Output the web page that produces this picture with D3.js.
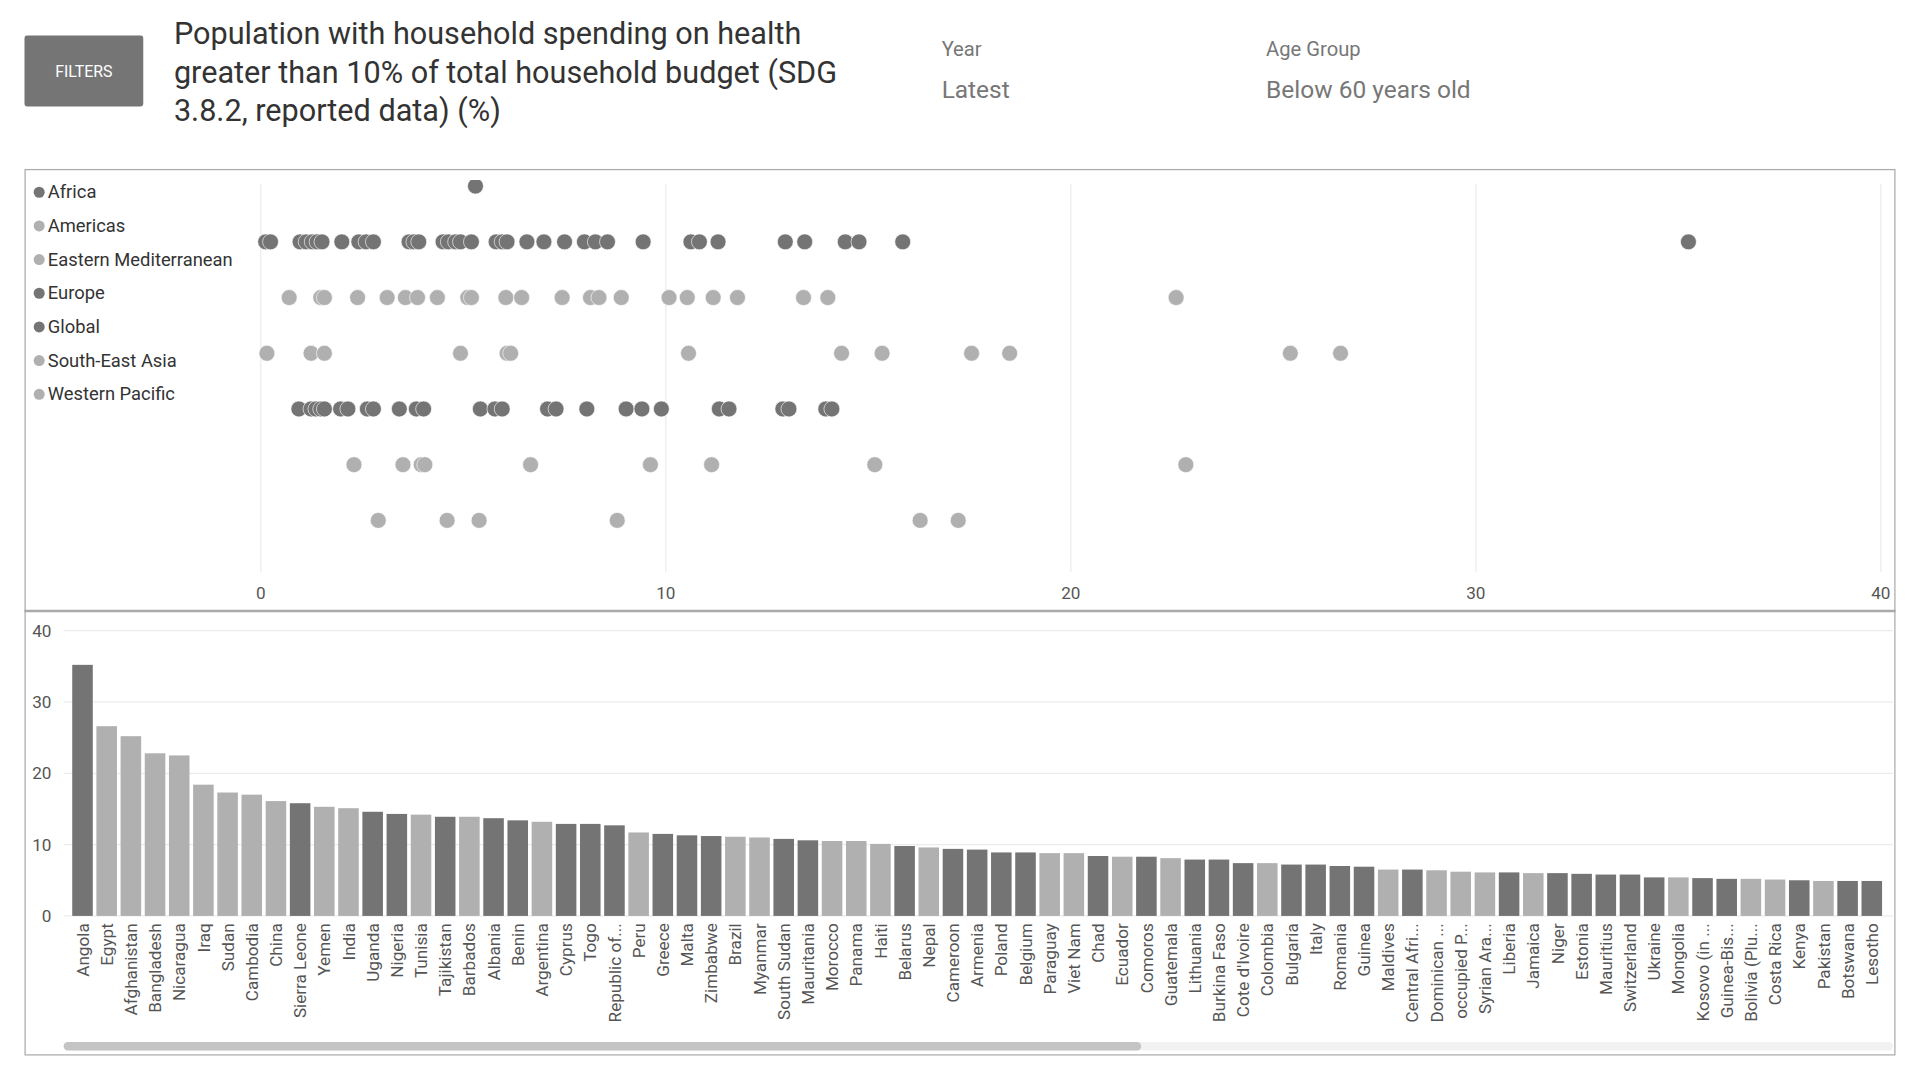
<!DOCTYPE html>
<html><head><meta charset="utf-8">
<script src="https://cdn.jsdelivr.net/npm/d3@7"></script>
<style>body{margin:0;background:#fff;font-family:Roboto,"Liberation Sans",sans-serif}</style>
</head><body>
<svg id="chart" width="1920" height="1080" viewBox="0 0 1568 882"></svg>
<script>
const regions = ['Africa', 'Americas', 'Eastern Mediterranean', 'Europe', 'Global', 'South-East Asia', 'Western Pacific']
const regionShade = ['dark', 'light', 'light', 'dark', 'dark', 'light', 'light']
const stripShade = ['dark', 'dark', 'light', 'light', 'dark', 'light', 'light']
const stripRows = [
  [5.3],
  [0.12, 0.24, 0.97, 1.12, 1.27, 1.39, 1.51, 2.0, 2.42, 2.6, 2.78, 3.66, 3.78, 3.9, 4.5, 4.63, 4.81, 4.93, 5.2, 5.81, 5.96, 6.08, 6.57, 6.99, 7.5, 7.99, 8.26, 8.56, 9.44, 10.62, 10.83, 11.29, 12.95, 13.43, 14.43, 14.77, 15.85, 35.25],
  [0.7, 1.48, 1.57, 2.39, 3.12, 3.57, 3.87, 4.36, 5.11, 5.2, 6.05, 6.44, 7.44, 8.14, 8.35, 8.9, 10.08, 10.53, 11.17, 11.77, 13.4, 14.0, 22.6],
  [0.15, 1.24, 1.57, 4.93, 6.08, 6.17, 10.56, 14.34, 15.34, 17.55, 18.49, 25.42, 26.66],
  [0.94, 1.24, 1.36, 1.48, 1.57, 1.97, 2.15, 2.63, 2.78, 3.42, 3.84, 4.02, 5.42, 5.78, 5.96, 7.08, 7.29, 8.05, 9.02, 9.41, 9.89, 11.32, 11.56, 12.89, 13.04, 13.95, 14.1],
  [2.3, 3.51, 3.96, 4.05, 6.66, 9.62, 11.13, 15.16, 22.84],
  [2.9, 4.6, 5.39, 8.8, 16.28, 17.22]
]
const countries = ['Angola', 'Egypt', 'Afghanistan', 'Bangladesh', 'Nicaragua', 'Iraq', 'Sudan', 'Cambodia', 'China', 'Sierra Leone', 'Yemen', 'India', 'Uganda', 'Nigeria', 'Tunisia', 'Tajikistan', 'Barbados', 'Albania', 'Benin', 'Argentina', 'Cyprus', 'Togo', 'Republic of...', 'Peru', 'Greece', 'Malta', 'Zimbabwe', 'Brazil', 'Myanmar', 'South Sudan', 'Mauritania', 'Morocco', 'Panama', 'Haiti', 'Belarus', 'Nepal', 'Cameroon', 'Armenia', 'Poland', 'Belgium', 'Paraguay', 'Viet Nam', 'Chad', 'Ecuador', 'Comoros', 'Guatemala', 'Lithuania', 'Burkina Faso', "Cote d'Ivoire", 'Colombia', 'Bulgaria', 'Italy', 'Romania', 'Guinea', 'Maldives', 'Central Afri...', 'Dominican ...', 'occupied P...', 'Syrian Ara...', 'Liberia', 'Jamaica', 'Niger', 'Estonia', 'Mauritius', 'Switzerland', 'Ukraine', 'Mongolia', 'Kosovo (in ...', 'Guinea-Bis...', 'Bolivia (Plu...', 'Costa Rica', 'Kenya', 'Pakistan', 'Botswana', 'Lesotho']
const values = [35.2, 26.6, 25.2, 22.8, 22.5, 18.4, 17.3, 17.0, 16.1, 15.8, 15.3, 15.1, 14.6, 14.3, 14.2, 13.9, 13.9, 13.7, 13.4, 13.2, 12.9, 12.9, 12.7, 11.7, 11.5, 11.3, 11.2, 11.1, 11.0, 10.8, 10.6, 10.5, 10.5, 10.1, 9.8, 9.6, 9.4, 9.3, 8.9, 8.9, 8.8, 8.8, 8.4, 8.3, 8.3, 8.1, 7.9, 7.9, 7.4, 7.4, 7.2, 7.2, 7.0, 6.9, 6.5, 6.5, 6.4, 6.2, 6.1, 6.1, 6.0, 6.0, 5.9, 5.8, 5.8, 5.4, 5.4, 5.3, 5.2, 5.2, 5.1, 5.0, 4.9, 4.9, 4.9]
const darkBars = ['Angola', 'Sierra Leone', 'Uganda', 'Nigeria', 'Tajikistan', 'Albania', 'Benin', 'Cyprus', 'Togo', 'Republic of...', 'Greece', 'Malta', 'Zimbabwe', 'South Sudan', 'Mauritania', 'Belarus', 'Cameroon', 'Armenia', 'Poland', 'Belgium', 'Chad', 'Comoros', 'Lithuania', 'Burkina Faso', "Cote d'Ivoire", 'Bulgaria', 'Italy', 'Romania', 'Guinea', 'Central Afri...', 'Liberia', 'Niger', 'Estonia', 'Mauritius', 'Switzerland', 'Ukraine', 'Kosovo (in ...', 'Guinea-Bis...', 'Kenya', 'Botswana', 'Lesotho']
const xTicks = [0, 10, 20, 30, 40]
const yTicks = [0, 10, 20, 30, 40]

const shade = {dark: '#747474', light: '#b0b0b0'}
const svg = d3.select('#chart')
const txt = '#555'

// header
svg.append('rect').attr('x', 20).attr('y', 29).attr('width', 97).attr('height', 58).attr('rx', 2).attr('fill', '#757575')
svg.append('text').attr('x', 68.5).attr('y', 63).attr('text-anchor', 'middle').attr('fill', '#fff').style('font-size', '13px').text('FILTERS')
const title = ['Population with household spending on health', 'greater than 10% of total household budget (SDG', '3.8.2, reported data) (%)']
svg.append('text').attr('fill', '#333').style('font-size', '25px')
  .selectAll('tspan').data(title).enter().append('tspan')
  .attr('x', 142).attr('y', (d, i) => 36 + i * 31.5).text(d => d)
svg.append('text').attr('x', 769).attr('y', 46).attr('fill', '#777').style('font-size', '16.5px').text('Year')
svg.append('text').attr('x', 769).attr('y', 80).attr('fill', '#777').style('font-size', '20px').text('Latest')
svg.append('text').attr('x', 1034).attr('y', 46).attr('fill', '#777').style('font-size', '16.5px').text('Age Group')
svg.append('text').attr('x', 1034).attr('y', 80).attr('fill', '#777').style('font-size', '20px').text('Below 60 years old')

// panel frames
svg.append('rect').attr('x', 20.5).attr('y', 138.5).attr('width', 1527).attr('height', 723).attr('fill', 'none').attr('stroke', '#aaa')
svg.append('line').attr('x1', 20).attr('x2', 1548).attr('y1', 499).attr('y2', 499).attr('stroke', '#aaa').attr('stroke-width', 2)

// strip plot
const x = d3.scaleLinear().domain([0, 40]).range([213, 1536])
const rowY = d3.scalePoint().domain(d3.range(stripRows.length)).range([152, 425])
svg.append('defs').append('clipPath').attr('id', 'clipTop')
  .append('rect').attr('x', 21).attr('y', 147).attr('width', 1526).attr('height', 350)
const strip = svg.append('g')
strip.append('g').selectAll('line').data(xTicks).enter().append('line')
  .attr('x1', d => x(d)).attr('x2', d => x(d)).attr('y1', 150).attr('y2', 467)
  .attr('stroke', '#ebebeb')
strip.append('g').selectAll('text').data(xTicks).enter().append('text')
  .attr('x', d => x(d)).attr('y', 489).attr('text-anchor', 'middle')
  .attr('fill', txt).style('font-size', '14px').text(d => d)
const dots = strip.append('g').attr('clip-path', 'url(#clipTop)')
stripRows.forEach((row, i) => {
  dots.selectAll('.r' + i).data(row).enter().append('circle')
    .attr('cx', d => x(d)).attr('cy', rowY(i)).attr('r', 6.5)
    .attr('fill', shade[stripShade[i]]).attr('stroke', '#fff').attr('stroke-width', 0.5)
})
const legend = svg.append('g').selectAll('g').data(regions).enter().append('g')
  .attr('transform', (d, i) => 'translate(32,' + (157 + i * 27.5) + ')')
legend.append('circle').attr('r', 4.5).attr('fill', (d, i) => shade[regionShade[i]])
legend.append('text').attr('x', 7).attr('y', 5).attr('fill', '#333').style('font-size', '15px').text(d => d)

// bar chart
const xb = d3.scaleBand().domain(countries).range([58, 1538]).paddingInner(0.15).paddingOuter(0.05)
const y = d3.scaleLinear().domain([0, 40]).range([748, 515])
const bot = svg.append('g')
bot.append('g').selectAll('line').data(yTicks).enter().append('line')
  .attr('x1', 52).attr('x2', 1546).attr('y1', d => y(d)).attr('y2', d => y(d)).attr('stroke', '#ebebeb')
bot.append('g').selectAll('text').data(yTicks).enter().append('text')
  .attr('x', 42).attr('y', d => y(d) + 5).attr('text-anchor', 'end')
  .attr('fill', txt).style('font-size', '14px').text(d => d)
bot.append('g').selectAll('rect').data(countries).enter().append('rect')
  .attr('x', d => xb(d)).attr('width', xb.bandwidth())
  .attr('y', (d, i) => y(values[i])).attr('height', (d, i) => y(0) - y(values[i]))
  .attr('fill', d => darkBars.includes(d) ? shade.dark : shade.light)
bot.append('g').selectAll('text').data(countries).enter().append('text')
  .attr('transform', d => 'translate(' + (xb(d) + xb.bandwidth() / 2 + 5) + ',754) rotate(-90)')
  .attr('text-anchor', 'end').attr('fill', txt).style('font-size', '14px').text(d => d)

// scrollbar
svg.append('rect').attr('x', 52).attr('y', 851).attr('width', 1494).attr('height', 7).attr('rx', 3.5).attr('fill', '#f2f2f2')
svg.append('rect').attr('x', 52).attr('y', 851).attr('width', 880).attr('height', 7).attr('rx', 3.5).attr('fill', '#c4c4c4')
</script>
</body></html>
